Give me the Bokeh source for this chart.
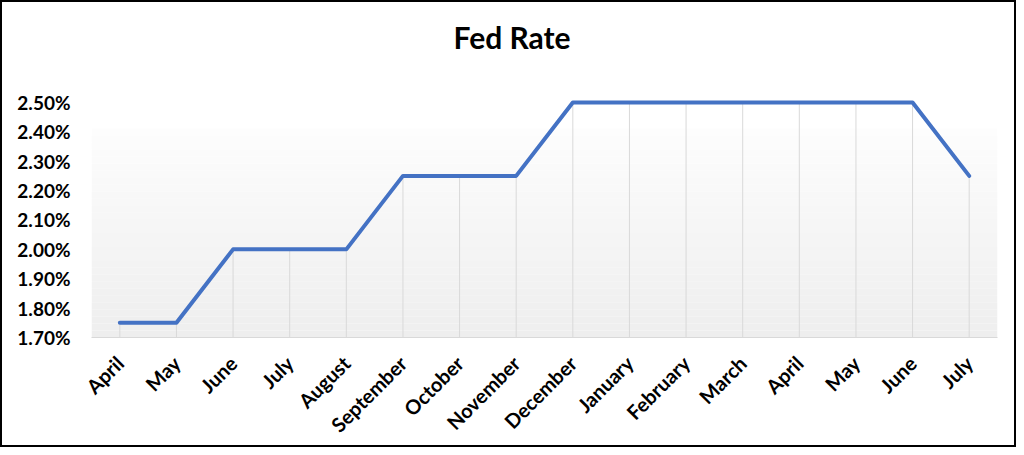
from bokeh.plotting import figure
from bokeh.models import Range1d, FixedTicker, PrintfTickFormatter, BoxAnnotation, Title
from bokeh.embed import file_html
from bokeh.resources import INLINE
import math

months = ["April", "May", "June", "July", "August", "September", "October",
          "November", "December", "January", "February", "March", "April",
          "May", "June", "July"]
rates = [1.75, 1.75, 2.00, 2.00, 2.00, 2.25, 2.25, 2.25, 2.50, 2.50, 2.50,
         2.50, 2.50, 2.50, 2.50, 2.25]
y_ticks = [1.70, 1.80, 1.90, 2.00, 2.10, 2.20, 2.30, 2.40, 2.50]
title_text = "Fed Rate"

xs = list(range(len(months)))
Y0, Y1 = 1.70, 2.51

p = figure(width=1016, height=447, output_backend="svg", toolbar_location=None,
           x_range=Range1d(-0.5, len(months) - 0.5), y_range=Range1d(Y0, Y1),
           min_border_left=89, min_border_right=21, min_border_top=97,
           min_border_bottom=112)
p.styles = {"border": "2px solid black", "box-sizing": "border-box"}
p.outline_line_color = None
p.background_fill_color = "white"
p.border_fill_color = "white"
p.xgrid.visible = False
p.ygrid.visible = False

p.title.text = title_text
p.title.align = "left"
p.title.vertical_align = "top"
p.title.text_font = "Lato"
p.title.text_font_style = "bold"
p.title.text_font_size = "30px"
p.title.text_color = "black"
p.title.standoff = 0
p.title.offset = 362

# blank spacer panel between the title and the plot area
p.add_layout(Title(text=" ", text_font_size="1px", standoff=40), "above")

# gradient background of plot area
n = 30
g_top = 2.411
c_bot, c_top = 238, 253
for i in range(n):
    b = Y0 + (g_top - Y0) * i / n
    t = Y0 + (g_top - Y0) * (i + 1) / n
    c = int(round(c_bot + (c_top - c_bot) * (i + 0.5) / n))
    p.add_layout(BoxAnnotation(bottom=b, top=t, fill_color=(c, c, c), fill_alpha=1,
                               line_color=None, level="underlay"))

# drop lines
p.segment(x0=xs, y0=[Y0] * len(xs), x1=xs, y1=rates, line_color="#d9d9d9", line_width=1)

# rate line
p.line(xs, rates, line_color="#4472C4", line_width=4, line_cap="round", line_join="round")

# axes
p.xaxis.ticker = FixedTicker(ticks=xs)
p.xaxis.major_label_overrides = {i: m for i, m in enumerate(months)}
p.xaxis.major_label_orientation = math.pi / 4
p.xaxis.major_tick_line_color = None
p.xaxis.minor_tick_line_color = None
p.xaxis.axis_line_color = "#d9d9d9"
p.xaxis.major_label_standoff = 16
p.xaxis.major_label_text_font = "Lato"
p.xaxis.major_label_text_font_style = "bold"
p.xaxis.major_label_text_font_size = "20px"
p.xaxis.major_label_text_color = "black"

p.yaxis.ticker = FixedTicker(ticks=y_ticks)
p.yaxis.formatter = PrintfTickFormatter(format="%.2f%%")
p.yaxis.major_tick_line_color = None
p.yaxis.minor_tick_line_color = None
p.yaxis.axis_line_color = None
p.yaxis.major_label_standoff = 15
p.yaxis.major_label_text_font = "Lato"
p.yaxis.major_label_text_font_style = "bold"
p.yaxis.major_label_text_font_size = "19px"
p.yaxis.major_label_text_color = "black"

open("out.html", "w").write(file_html(p, INLINE))
